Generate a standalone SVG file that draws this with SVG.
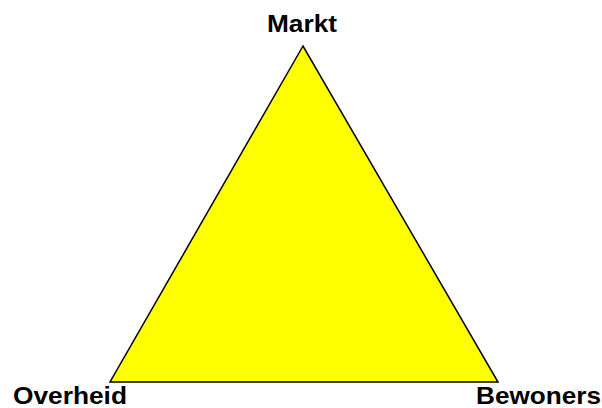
<svg xmlns="http://www.w3.org/2000/svg" width="602" height="408" viewBox="0 0 602 408">
<style>
.lbl{font-family:"Liberation Sans",Arial,sans-serif;font-weight:bold;font-size:24px;fill:#000}
</style>
<rect width="602" height="408" fill="#fff"/>
<g id="triangle">
<polygon points="303,46 110,382 498,382" fill="#ffff00" stroke="#000" stroke-width="1.5" stroke-linejoin="miter"/>
</g>
<g id="markt"><text class="lbl" x="267" y="32" textLength="70" lengthAdjust="spacingAndGlyphs">Markt</text></g>
<g id="overheid"><text class="lbl" x="13" y="404" textLength="114" lengthAdjust="spacingAndGlyphs">Overheid</text></g>
<g id="bewoners"><text class="lbl" x="476" y="404" textLength="125" lengthAdjust="spacingAndGlyphs">Bewoners</text></g>
</svg>
